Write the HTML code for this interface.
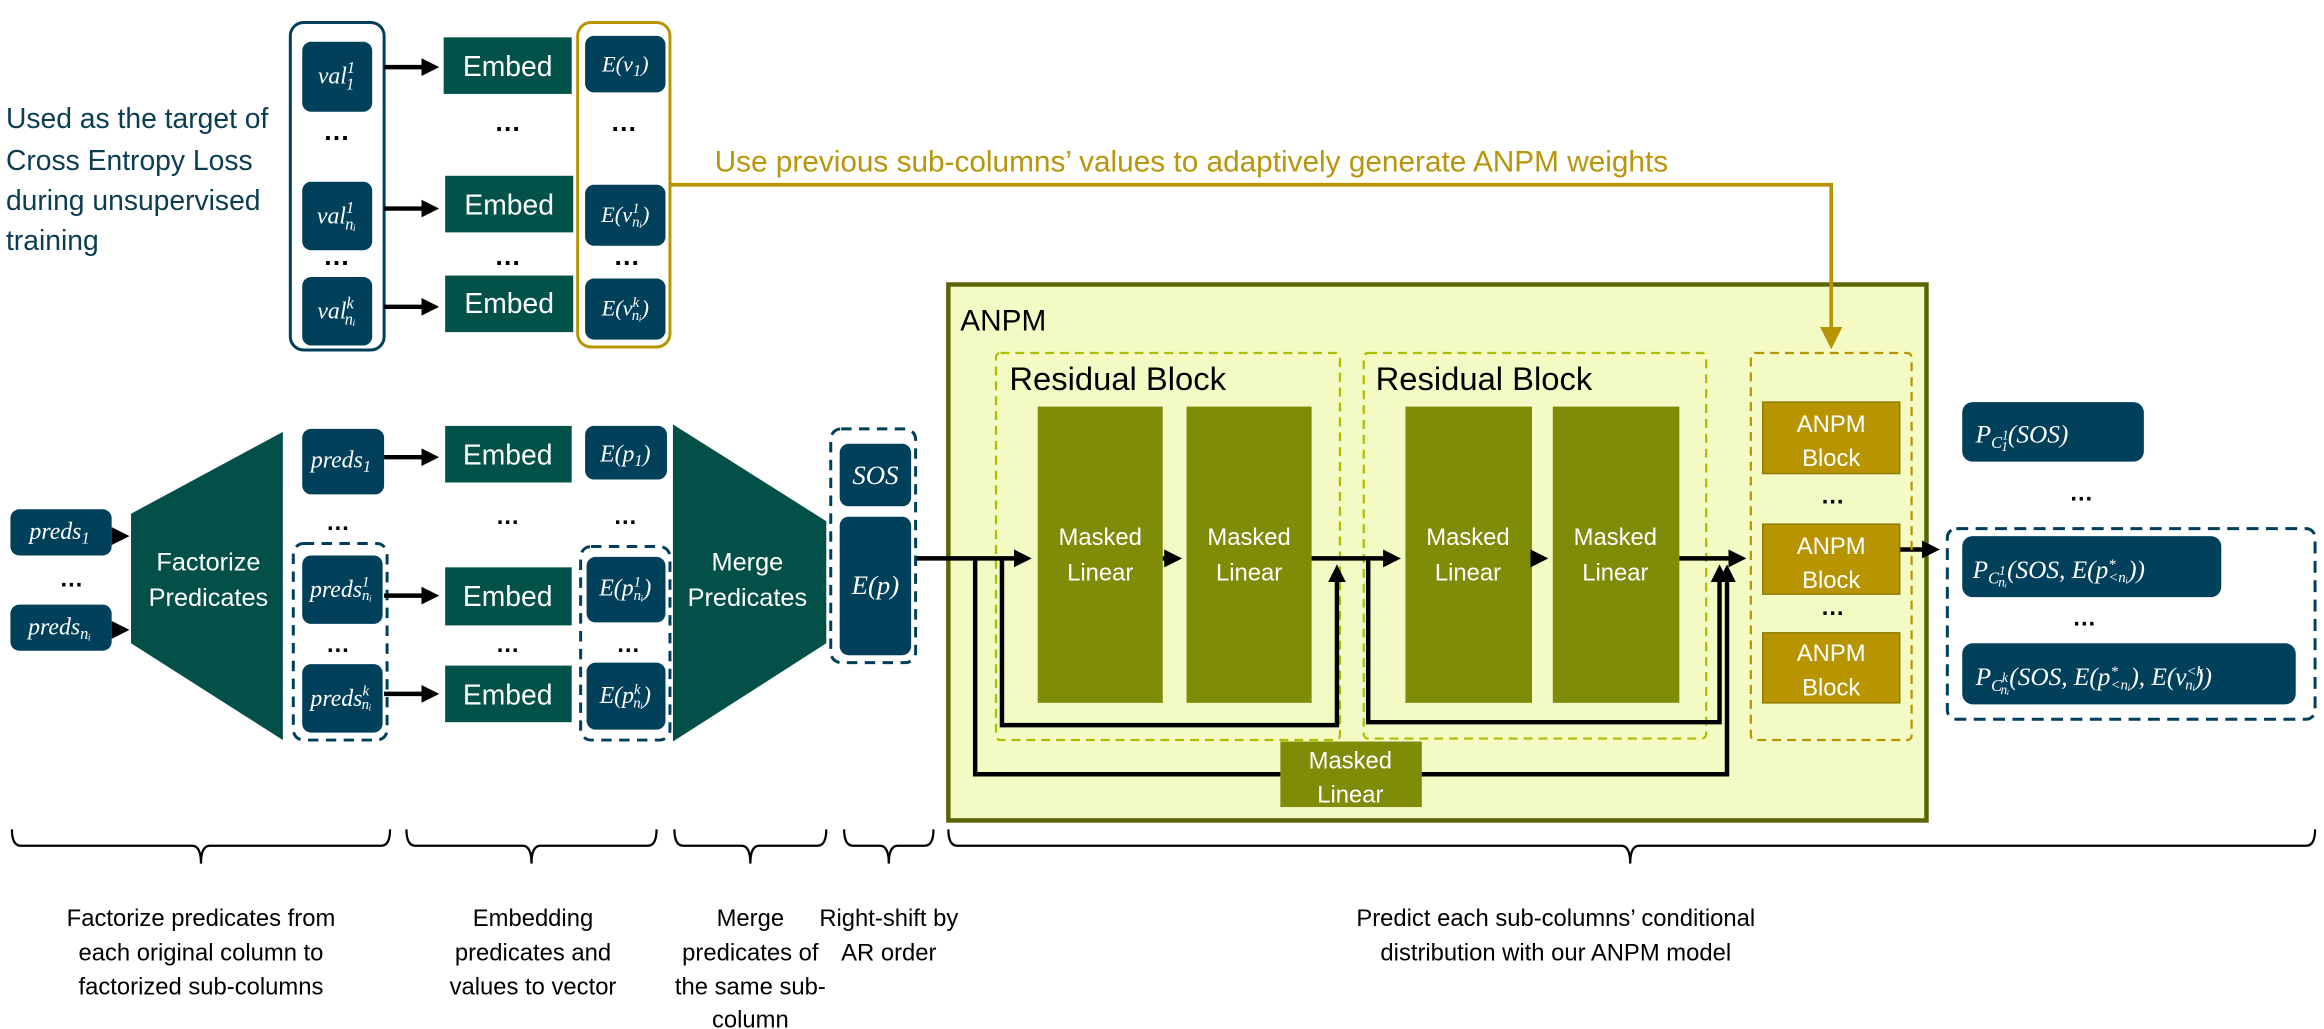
<!DOCTYPE html>
<html><head><meta charset="utf-8"><style>
html,body{margin:0;padding:0;background:#fff;}
svg{display:block;}
.m{font-family:"Liberation Serif",serif;font-style:italic;fill:#fff;}
.s{font-family:"Liberation Sans",sans-serif;}
</style></head><body>
<svg width="2324" height="1029" viewBox="0 0 1561 691" xmlns="http://www.w3.org/2000/svg">
<defs>
<marker id="ah" markerWidth="4" markerHeight="4" refX="3" refY="2" orient="auto" markerUnits="strokeWidth"><path d="M0,0 L4,2 L0,4 z" fill="#000"/></marker>
<marker id="ag" markerWidth="6" markerHeight="6" refX="5" refY="3" orient="auto" markerUnits="strokeWidth"><path d="M0,0 L6,3 L0,6 z" fill="#b89500"/></marker>
</defs>
<rect width="1561" height="691" fill="#fff"/>

<g class="s" fill="#0b3d52" font-size="19">
<text x="4" y="86">Used as the target of</text>
<text x="4" y="114">Cross Entropy Loss</text>
<text x="4" y="141">during unsupervised</text>
<text x="4" y="168">training</text>
</g>

<rect x="195" y="15" width="63" height="220" rx="9" fill="none" stroke="#003f5c" stroke-width="2"/>
<g fill="#00405a">
<rect x="203" y="28" width="47" height="47" rx="6"/>
<rect x="203" y="122" width="47" height="46" rx="6"/>
<rect x="203" y="186" width="47" height="46" rx="6"/>
</g>
<g class="m" font-size="16" text-anchor="middle">
<text x="226" y="56">val<tspan font-size="11" dy="-7">1</tspan><tspan font-size="11" dx="-6" dy="11">1</tspan></text>
<text x="226" y="150">val<tspan font-size="11" dy="-7">1</tspan><tspan font-size="11" dx="-6" dy="11">nᵢ</tspan></text>
<text x="226" y="214">val<tspan font-size="11" dy="-7">k</tspan><tspan font-size="11" dx="-6" dy="11">nᵢ</tspan></text>
</g>
<g font-size="18" font-weight="bold" fill="#000" class="s" text-anchor="middle">
<text x="226" y="94">…</text><text x="226" y="178">…</text>
<text x="341" y="88">…</text><text x="341" y="178">…</text>
<text x="419" y="88">…</text><text x="421" y="178">…</text>
</g>
<g stroke="#000" stroke-width="3" marker-end="url(#ah)">
<line x1="258" y1="45" x2="292" y2="45"/>
<line x1="258" y1="140" x2="292" y2="140"/>
<line x1="258" y1="206" x2="292" y2="206"/>
</g>
<g fill="#02524a">
<rect x="298" y="25" width="86" height="38"/>
<rect x="299" y="118" width="86" height="38"/>
<rect x="299" y="185" width="86" height="38"/>
</g>
<g class="s" font-size="19" fill="#fff" text-anchor="middle">
<text x="341" y="51">Embed</text><text x="342" y="144">Embed</text><text x="342" y="210">Embed</text>
</g>
<rect x="388" y="15" width="62" height="218" rx="9" fill="none" stroke="#b89500" stroke-width="2"/>
<g fill="#00405a">
<rect x="393" y="24" width="54" height="38" rx="6"/>
<rect x="393" y="124" width="54" height="41" rx="6"/>
<rect x="393" y="187" width="54" height="41" rx="6"/>
</g>
<g class="m" font-size="15" text-anchor="middle">
<text x="420" y="48">E(v<tspan font-size="11" dy="3">1</tspan><tspan dy="-3">)</tspan></text>
<text x="420" y="149">E(v<tspan font-size="10" dy="-6">1</tspan><tspan font-size="10" dx="-5" dy="9">nᵢ</tspan><tspan dy="-3">)</tspan></text>
<text x="420" y="212">E(v<tspan font-size="10" dy="-6">k</tspan><tspan font-size="10" dx="-5" dy="9">nᵢ</tspan><tspan dy="-3">)</tspan></text>
</g>

<text x="480" y="115" class="s" font-size="20" fill="#b8950b">Use previous sub-columns’ values to adaptively generate ANPM weights</text>

<rect x="637" y="191" width="657" height="360" fill="#f3fac4" stroke="#5b6500" stroke-width="3"/>
<polyline points="450,124 1230,124 1230,232" fill="none" stroke="#b89500" stroke-width="2.5" marker-end="url(#ag)"/>
<text x="645" y="222" class="s" font-size="20" fill="#000">ANPM</text>
<rect x="669" y="237" width="231" height="260" fill="none" stroke="#a9c000" stroke-width="1.5" stroke-dasharray="6,4" rx="3"/>
<rect x="916" y="237" width="230" height="259" fill="none" stroke="#a9c000" stroke-width="1.5" stroke-dasharray="6,4" rx="3"/>
<text x="678" y="262" class="s" font-size="22" fill="#000">Residual Block</text>
<text x="924" y="262" class="s" font-size="22" fill="#000">Residual Block</text>
<g fill="#7e8c08">
<rect x="697" y="273" width="84" height="199"/>
<rect x="797" y="273" width="84" height="199"/>
<rect x="944" y="273" width="85" height="199"/>
<rect x="1043" y="273" width="85" height="199"/>
<rect x="860" y="498" width="95" height="44"/>
</g>
<g class="s" font-size="16" fill="#fff" text-anchor="middle">
<text x="739" y="366">Masked</text><text x="739" y="390">Linear</text>
<text x="839" y="366">Masked</text><text x="839" y="390">Linear</text>
<text x="986" y="366">Masked</text><text x="986" y="390">Linear</text>
<text x="1085" y="366">Masked</text><text x="1085" y="390">Linear</text>
<text x="907" y="516">Masked</text><text x="907" y="539">Linear</text>
</g>
<g stroke="#000" stroke-width="3" fill="none">
<line x1="615" y1="375" x2="690" y2="375" marker-end="url(#ah)"/>
<line x1="781" y1="375" x2="791" y2="375" marker-end="url(#ah)"/>
<line x1="881" y1="375" x2="938" y2="375" marker-end="url(#ah)"/>
<line x1="1029" y1="375" x2="1037" y2="375" marker-end="url(#ah)"/>
<line x1="1128" y1="375" x2="1170" y2="375" marker-end="url(#ah)"/>
<polyline points="673,375 673,487 898,487 898,382" marker-end="url(#ah)"/>
<polyline points="919,375 919,485 1155,485 1155,382" marker-end="url(#ah)"/>
<polyline points="655,375 655,520 860,520"/>
<polyline points="955,520 1160,520 1160,382" marker-end="url(#ah)"/>
<line x1="1276" y1="369" x2="1300" y2="369" marker-end="url(#ah)"/>
</g>
<rect x="1176" y="237" width="108" height="260" fill="none" stroke="#b89500" stroke-width="1.5" stroke-dasharray="6,4" rx="3"/>
<g fill="#b89500" stroke="#8f7a00" stroke-width="1">
<rect x="1184" y="270" width="92" height="48"/>
<rect x="1184" y="352" width="92" height="47"/>
<rect x="1184" y="425" width="92" height="47"/>
</g>
<g class="s" font-size="16" fill="#fff" text-anchor="middle">
<text x="1230" y="290">ANPM</text><text x="1230" y="313">Block</text>
<text x="1230" y="372">ANPM</text><text x="1230" y="395">Block</text>
<text x="1230" y="444">ANPM</text><text x="1230" y="467">Block</text>
</g>
<g font-size="16" font-weight="bold" fill="#000" class="s" text-anchor="middle">
<text x="1231" y="338">…</text><text x="1231" y="413">…</text>
<text x="1398" y="336">…</text><text x="1400" y="420">…</text>
</g>
<rect x="1308" y="355" width="247" height="128" rx="6" fill="none" stroke="#003f5c" stroke-width="2" stroke-dasharray="8,5"/>
<g fill="#00405a">
<rect x="1318" y="270" width="122" height="40" rx="7"/>
<rect x="1318" y="360" width="174" height="41" rx="7"/>
<rect x="1318" y="432" width="224" height="41" rx="7"/>
</g>
<g class="m" font-size="17">
<text x="1327" y="297">P<tspan font-size="11" dy="4">C</tspan><tspan font-size="9" dy="-6">1</tspan><tspan font-size="9" dx="-5" dy="8">1</tspan><tspan dy="-6">(SOS)</tspan></text>
<text x="1325" y="388">P<tspan font-size="11" dy="4">C</tspan><tspan font-size="9" dy="-6">1</tspan><tspan font-size="9" dx="-5" dy="8">nᵢ</tspan><tspan dy="-6">(SOS, E(p</tspan><tspan font-size="10" dy="-6">*</tspan><tspan font-size="10" dx="-5" dy="9">&lt;nᵢ</tspan><tspan dy="-3">))</tspan></text>
<text x="1327" y="460">P<tspan font-size="11" dy="4">C</tspan><tspan font-size="9" dy="-6">k</tspan><tspan font-size="9" dx="-5" dy="8">nᵢ</tspan><tspan dy="-6">(SOS, E(p</tspan><tspan font-size="10" dy="-6">*</tspan><tspan font-size="10" dx="-5" dy="9">&lt;nᵢ</tspan><tspan dy="-3">), E(v</tspan><tspan font-size="10" dy="-6">&lt;k</tspan><tspan font-size="10" dx="-12" dy="9">nᵢ</tspan><tspan dy="-3">))</tspan></text>
</g>

<g fill="#00405a">
<rect x="7" y="342" width="68" height="31" rx="6"/>
<rect x="7" y="406" width="68" height="31" rx="6"/>
</g>
<g class="m" font-size="16" text-anchor="middle">
<text x="40" y="362">preds<tspan font-size="11" dy="3">1</tspan></text>
<text x="40" y="426">preds<tspan font-size="11" dy="3">nᵢ</tspan></text>
</g>
<text x="48" y="394" class="s" font-size="16" font-weight="bold" text-anchor="middle">…</text>
<g stroke="#000" stroke-width="3" marker-end="url(#ah)">
<line x1="77" y1="360" x2="84" y2="360"/>
<line x1="77" y1="423" x2="84" y2="423"/>
</g>
<polygon points="88,345 190,290 190,497 88,432" fill="#025048"/>
<polygon points="452,285 555,350 555,432 452,498" fill="#025048"/>
<g class="s" font-size="17" fill="#fff" text-anchor="middle">
<text x="140" y="383">Factorize</text><text x="140" y="407">Predicates</text>
<text x="502" y="383">Merge</text><text x="502" y="407">Predicates</text>
</g>
<g fill="#00405a">
<rect x="203" y="288" width="55" height="44" rx="6"/>
<rect x="203" y="373" width="54" height="46" rx="6"/>
<rect x="203" y="446" width="54" height="46" rx="6"/>
<rect x="393" y="286" width="55" height="36" rx="6"/>
<rect x="394" y="374" width="53" height="44" rx="6"/>
<rect x="394" y="445" width="53" height="45" rx="6"/>
<rect x="564" y="298" width="48" height="42" rx="6"/>
<rect x="564" y="347" width="48" height="93" rx="6"/>
</g>
<rect x="197" y="365" width="63" height="132" rx="7" fill="none" stroke="#003f5c" stroke-width="2" stroke-dasharray="7,5"/>
<rect x="390" y="367" width="60" height="130" rx="7" fill="none" stroke="#003f5c" stroke-width="2" stroke-dasharray="7,5"/>
<rect x="558" y="288" width="57" height="157" rx="7" fill="none" stroke="#003f5c" stroke-width="2" stroke-dasharray="7,5"/>
<g class="m" font-size="16" text-anchor="middle">
<text x="229" y="314">preds<tspan font-size="11" dy="3">1</tspan></text>
<text x="229" y="401">preds<tspan font-size="10" dy="-7">1</tspan><tspan font-size="10" dx="-5" dy="9">nᵢ</tspan></text>
<text x="229" y="474">preds<tspan font-size="10" dy="-7">k</tspan><tspan font-size="10" dx="-5" dy="9">nᵢ</tspan></text>
<text x="420" y="310">E(p<tspan font-size="11" dy="3">1</tspan><tspan dy="-3">)</tspan></text>
<text x="420" y="400">E(p<tspan font-size="10" dy="-6">1</tspan><tspan font-size="10" dx="-5" dy="9">nᵢ</tspan><tspan dy="-3">)</tspan></text>
<text x="420" y="472">E(p<tspan font-size="10" dy="-6">k</tspan><tspan font-size="10" dx="-5" dy="9">nᵢ</tspan><tspan dy="-3">)</tspan></text>
<text x="588" y="325" font-size="18">SOS</text>
<text x="588" y="399" font-size="18">E(p)</text>
</g>
<g font-size="16" font-weight="bold" fill="#000" class="s" text-anchor="middle">
<text x="227" y="356">…</text><text x="227" y="438">…</text>
<text x="341" y="352">…</text><text x="341" y="438">…</text>
<text x="420" y="352">…</text><text x="422" y="438">…</text>
</g>
<g stroke="#000" stroke-width="3" marker-end="url(#ah)">
<line x1="258" y1="307" x2="292" y2="307"/>
<line x1="258" y1="400" x2="292" y2="400"/>
<line x1="258" y1="466" x2="292" y2="466"/>
</g>
<g fill="#02524a">
<rect x="299" y="286" width="85" height="38"/>
<rect x="299" y="381" width="85" height="39"/>
<rect x="299" y="447" width="85" height="38"/>
</g>
<g class="s" font-size="19" fill="#fff" text-anchor="middle">
<text x="341" y="312">Embed</text><text x="341" y="407">Embed</text><text x="341" y="473">Embed</text>
</g>

<g stroke="#000" stroke-width="1.5" fill="none">
<path d="M8,557 Q8,568 14,568 L129,568 Q135,568 135,580 Q135,568 141,568 L256,568 Q262,568 262,557"/>
<path d="M273,557 Q273,568 279,568 L351,568 Q357,568 357,580 Q357,568 363,568 L435,568 Q441,568 441,557"/>
<path d="M453,557 Q453,568 459,568 L498,568 Q504,568 504,580 Q504,568 510,568 L549,568 Q555,568 555,557"/>
<path d="M567,557 Q567,568 573,568 L591,568 Q597,568 597,580 Q597,568 603,568 L621,568 Q627,568 627,557"/>
<path d="M637,557 Q637,568 643,568 L1089,568 Q1095,568 1095,580 Q1095,568 1101,568 L1549,568 Q1555,568 1555,557"/>
</g>
<g class="s" font-size="16" fill="#000" text-anchor="middle">
<text x="135" y="622">Factorize predicates from</text>
<text x="135" y="645">each original column to</text>
<text x="135" y="668">factorized sub-columns</text>
<text x="358" y="622">Embedding</text>
<text x="358" y="645">predicates and</text>
<text x="358" y="668">values to vector</text>
<text x="504" y="622">Merge</text>
<text x="504" y="645">predicates of</text>
<text x="504" y="668">the same sub-</text>
<text x="504" y="690">column</text>
<text x="597" y="622">Right-shift by</text>
<text x="597" y="645">AR order</text>
<text x="1045" y="622">Predict each sub-columns’ conditional</text>
<text x="1045" y="645">distribution with our ANPM model</text>
</g>
</svg>
</body></html>
